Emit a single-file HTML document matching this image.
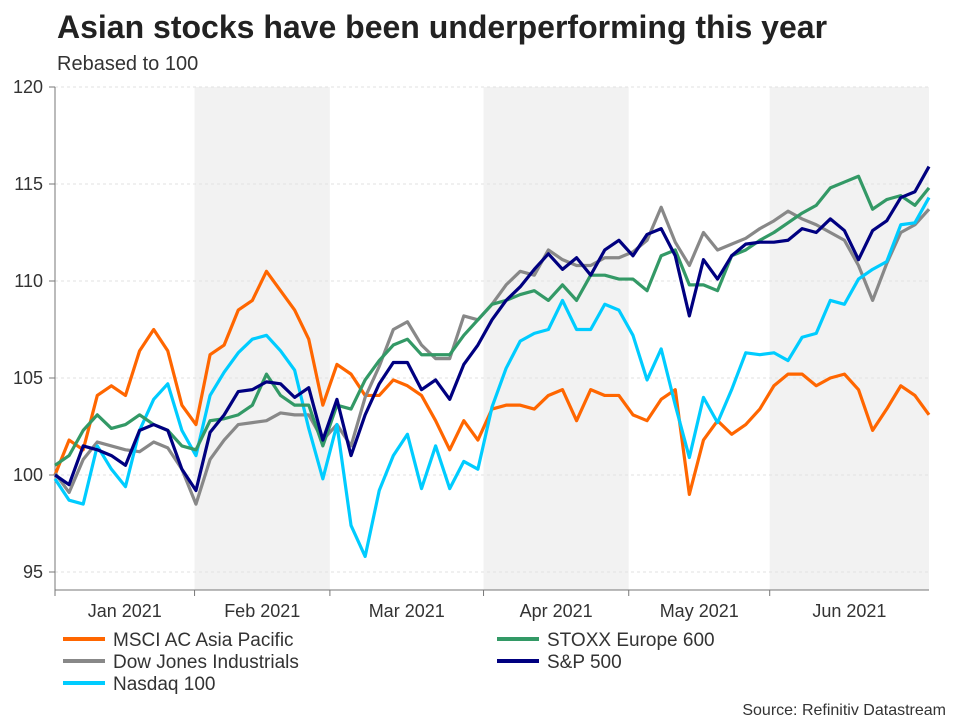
<!DOCTYPE html>
<html><head><meta charset="utf-8"><style>
body{margin:0;background:#fff;width:960px;height:720px;overflow:hidden;font-family:"Liberation Sans",Arial,sans-serif;}
svg{display:block}
</style></head><body>
<svg id="chart" width="960" height="720">
<text x="57" y="38" font-size="32" font-weight="bold" fill="#222">Asian stocks have been underperforming this year</text>
<text x="57" y="70" font-size="20" fill="#333">Rebased to 100</text>
<g id="bands"></g><g id="grid"></g><g id="axes"></g><g id="series"></g><g id="legend"></g>
<text x="946" y="715" font-size="16" fill="#333" text-anchor="end">Source: Refinitiv Datastream</text>
</svg>
<script>
const yTicks=[95,100,105,110,115,120];
const months=["Jan 2021","Feb 2021","Mar 2021","Apr 2021","May 2021","Jun 2021"];
const monthStart=[0,9.9,19.5,30.4,40.7,50.7,62];
const seriesNames=["MSCI AC Asia Pacific","Dow Jones Industrials","Nasdaq 100","STOXX Europe 600","S&P 500"];
const msci=[100.0,101.8,101.3,104.1,104.6,104.1,106.4,107.5,106.4,103.6,102.6,106.2,106.7,108.5,109.0,110.5,109.5,108.5,107.0,103.6,105.7,105.2,104.1,104.1,104.9,104.6,104.1,102.8,101.3,102.8,101.8,103.4,103.6,103.6,103.4,104.1,104.4,102.8,104.4,104.1,104.1,103.1,102.8,103.9,104.4,99.0,101.8,102.8,102.1,102.6,103.4,104.6,105.2,105.2,104.6,105.0,105.2,104.4,102.3,103.4,104.6,104.1,103.1];
const dow=[100.1,99.1,100.8,101.7,101.5,101.3,101.2,101.7,101.4,100.3,98.5,100.8,101.8,102.6,102.7,102.8,103.2,103.1,103.1,101.8,102.6,101.5,104.0,105.6,107.5,107.9,106.7,106.0,106.0,108.2,108.0,108.8,109.8,110.5,110.3,111.6,111.1,110.8,110.8,111.2,111.2,111.5,112.1,113.8,112.0,110.8,112.5,111.6,111.9,112.2,112.7,113.1,113.6,113.2,112.9,112.5,112.1,110.8,109.0,110.9,112.5,112.9,113.7];
const nasdaq=[99.8,98.7,98.5,101.5,100.3,99.4,102.3,103.9,104.7,102.3,101.0,104.1,105.3,106.3,107.0,107.2,106.4,105.4,102.4,99.8,102.6,97.4,95.8,99.2,101.0,102.1,99.3,101.5,99.3,100.7,100.3,103.5,105.5,106.9,107.3,107.5,109.0,107.5,107.5,108.8,108.5,107.2,104.9,106.5,103.6,100.9,104.0,102.7,104.4,106.3,106.2,106.3,105.9,107.1,107.3,109.0,108.8,110.1,110.6,111.0,112.9,113.0,114.3];
const stoxx=[100.5,101.0,102.3,103.1,102.4,102.6,103.1,102.6,102.3,101.5,101.3,102.8,102.9,103.1,103.6,105.2,104.1,103.6,103.6,101.5,103.6,103.4,104.9,105.9,106.7,107.0,106.2,106.2,106.2,107.2,108.0,108.8,109.0,109.3,109.5,109.0,109.8,109.0,110.3,110.3,110.1,110.1,109.5,111.3,111.6,109.8,109.8,109.5,111.3,111.6,112.1,112.5,113.0,113.5,113.9,114.8,115.1,115.4,113.7,114.2,114.4,113.9,114.8];
const sp=[100.0,99.5,101.5,101.3,101.0,100.5,102.3,102.6,102.3,100.3,99.2,102.2,103.1,104.3,104.4,104.8,104.7,104.0,104.5,101.8,103.9,101.0,103.1,104.7,105.8,105.8,104.4,104.9,103.9,105.7,106.7,108.0,109.0,109.7,110.6,111.4,110.6,111.2,110.3,111.6,112.1,111.3,112.4,112.7,111.3,108.2,111.1,110.1,111.3,111.9,112.0,112.0,112.1,112.7,112.5,113.2,112.6,111.1,112.6,113.1,114.3,114.6,115.9];
const colors=["#ff6600","#888888","#00ccff","#339966","#000080"];
const data=[msci,dow,nasdaq,stoxx,sp];
const NS="http://www.w3.org/2000/svg";
const X0=55,X1=929,Y0=590,YT=87;
const x=i=>X0+(X1-X0)*i/62;
const y=v=>475-(v-100)*19.4;
function mk(t,a,p){const e=document.createElementNS(NS,t);for(const k in a)e.setAttribute(k,a[k]);p.appendChild(e);return e;}
const bands=document.getElementById('bands'),grid=document.getElementById('grid'),axes=document.getElementById('axes'),ser=document.getElementById('series'),leg=document.getElementById('legend');
for(let m=1;m<6;m+=2){const r=mk('rect',{x:x(monthStart[m]),y:YT,width:x(monthStart[m+1])-x(monthStart[m]),height:Y0-YT,fill:'#f2f2f2'},bands);

}
yTicks.forEach(t=>{const g=mk('line',{x1:X0,x2:X1,y1:y(t),y2:y(t),stroke:'#e2e2e2','stroke-dasharray':'3,3'},grid);


mk('line',{x1:49,x2:X0,y1:y(t),y2:y(t),stroke:'#777'},axes);
const l=mk('text',{x:43,y:y(t)+6,'font-size':18,'text-anchor':'end',fill:'#333'},axes);l.textContent=t;

});
mk('line',{x1:X0,x2:X0,y1:YT,y2:Y0,stroke:'#777'},axes);
mk('line',{x1:X0,x2:X1,y1:Y0,y2:Y0,stroke:'#777'},axes);
months.forEach((m,i)=>{mk('line',{x1:x(monthStart[i]),x2:x(monthStart[i]),y1:Y0,y2:Y0+6,stroke:'#777'},axes);
const t=mk('text',{x:(x(monthStart[i])+x(monthStart[i+1]))/2,y:617,'font-size':18,'text-anchor':'middle',fill:'#333'},axes);t.textContent=m;

});
data.forEach((d,s)=>{const p=mk('polyline',{points:d.map((v,i)=>x(i)+','+y(v)).join(' '),fill:'none',stroke:colors[s],'stroke-width':3.2,'stroke-linejoin':'round'},ser);

});
const lpos=[[63,639],[63,661],[63,683],[497,639],[497,661]];
seriesNames.forEach((n,s)=>{const [lx,ly]=lpos[s];
const g=mk('g',{},leg);


mk('line',{x1:lx,x2:lx+42,y1:ly,y2:ly,stroke:colors[s],'stroke-width':4},g);
const t=mk('text',{x:lx+50,y:ly+7,'font-size':19,fill:'#333'},g);t.textContent=n;});
</script>
</body></html>
